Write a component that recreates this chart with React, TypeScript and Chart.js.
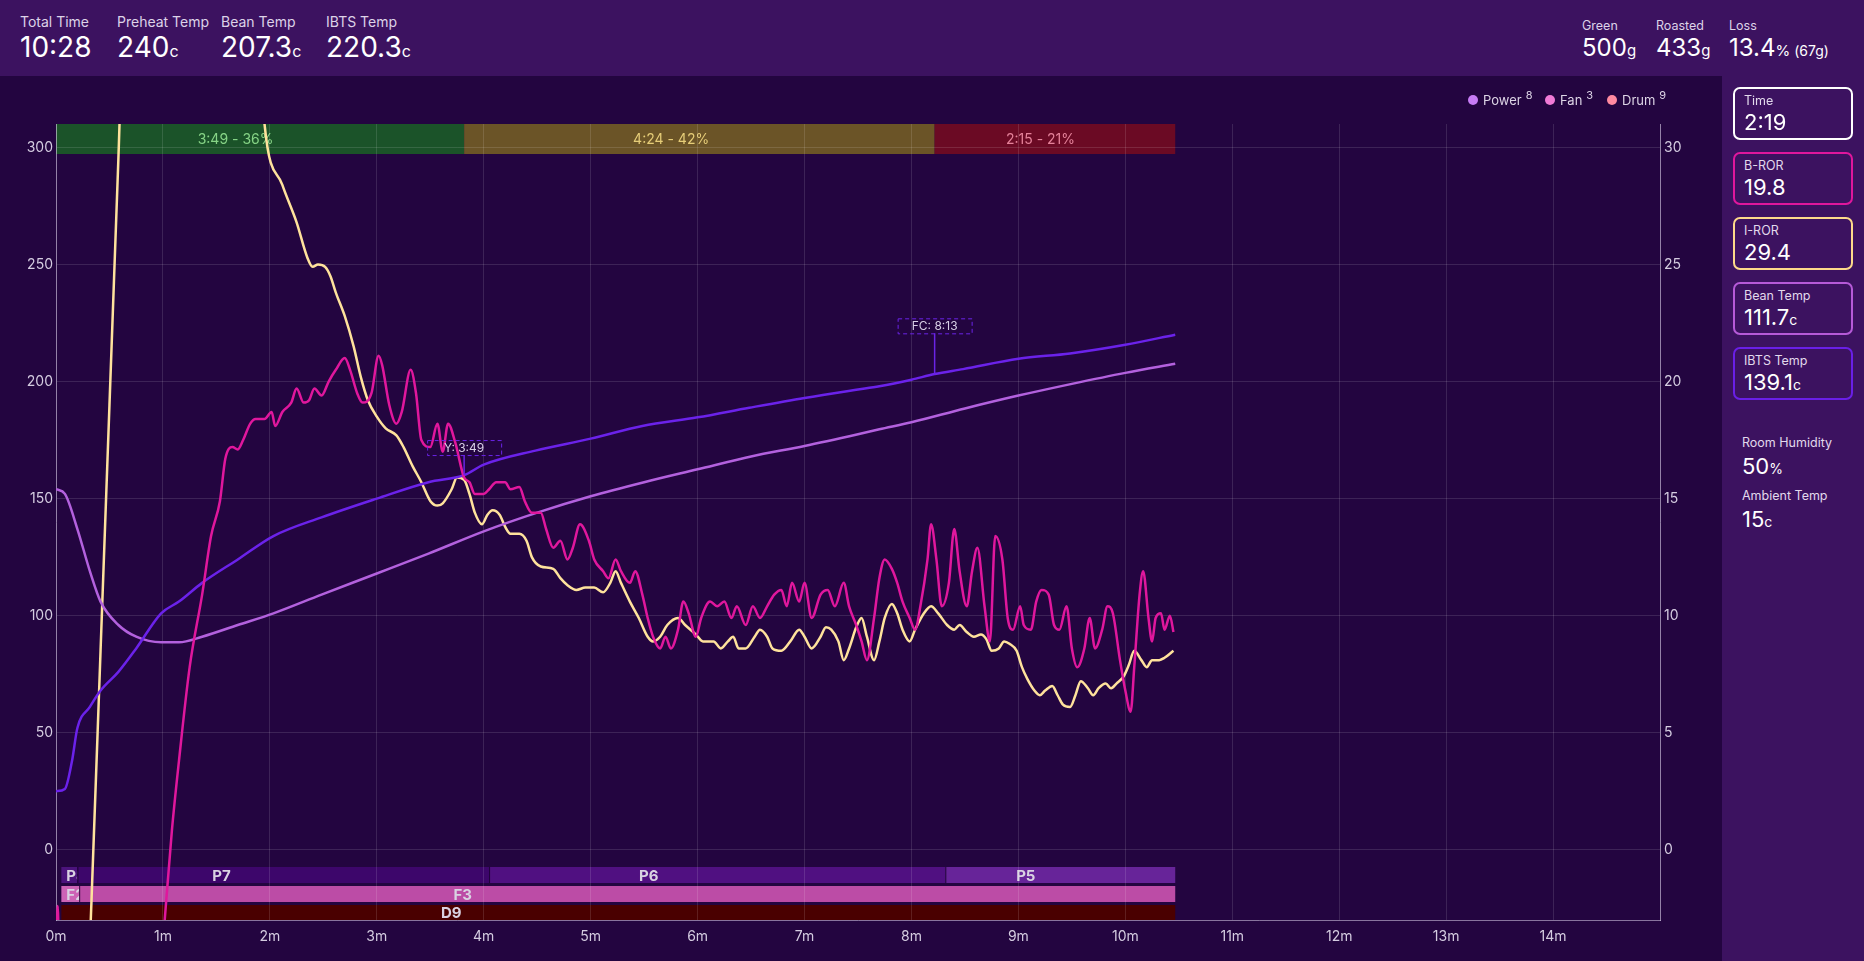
import React, { useEffect, useRef } from 'react';
import { Chart, registerables } from 'chart.js';

Chart.register(...registerables);

// ---------- data ----------
const beanTime = [0, 5, 12, 19, 25, 35, 45, 59, 69, 82, 102, 122, 149, 180, 209, 240, 270, 300, 330, 360, 390, 420, 450, 462, 480, 510, 540, 570, 600, 628];
const beanTemp = [154, 152, 137, 119, 106, 96, 91, 88.6, 88.6, 91, 96, 101, 109, 118, 126.5, 136, 144, 151, 157, 162.5, 168, 172.5, 177.5, 179.6, 182.6, 188.5, 194, 199, 203.7, 207.6];

const ibtsTime = [0, 5, 9, 12, 19, 25, 35, 45, 59, 69, 82, 102, 122, 149, 180, 209, 229, 240, 269, 300, 329, 360, 389, 420, 449, 462, 480, 493, 509, 540, 569, 600, 628];
const ibtsTemp = [25, 26, 38, 52, 61, 68, 76, 86, 101, 106, 114, 124, 134, 142, 150, 157, 160, 164.5, 170.5, 175.6, 181, 184.7, 188.8, 193, 196.5, 198, 200.8, 203.2, 205.3, 209.7, 212, 215.7, 220];

const brorTime = [0, 1, 2, 58, 61, 65, 69, 75, 82, 87, 92, 95, 99, 102, 105, 109, 112, 117, 121, 123, 127, 132, 135, 139, 142, 145, 149, 153, 157, 162, 165, 169, 172, 177, 181, 183, 187, 191, 194, 199, 202, 205, 210, 214, 217, 220, 224, 229, 232, 235, 240, 243, 247, 252, 255, 260, 263, 267, 272, 275, 279, 283, 287, 290, 294, 299, 302, 307, 310, 314, 317, 322, 325, 329, 332, 335, 339, 342, 345, 349, 352, 355, 359, 362, 367, 371, 375, 379, 382, 387, 391, 395, 399, 403, 407, 410, 413, 417, 420, 424, 429, 433, 437, 442, 445, 449, 452, 455, 459, 462, 465, 469, 472, 475, 479, 482, 485, 489, 491, 494, 497, 501, 504, 507, 511, 514, 517, 521, 524, 527, 531, 534, 537, 541, 543, 547, 550, 553, 557, 560, 563, 567, 570, 573, 577, 580, 583, 587, 590, 593, 597, 600, 603, 605, 608, 610, 613, 615, 617, 620, 622, 625, 627];
const brorVal = [-6, -2.4, -6, -6, -3, 0.8, 3.8, 7.8, 10.9, 13.4, 14.9, 16.7, 17.2, 17.1, 17.5, 18.2, 18.4, 18.4, 18.7, 18.1, 18.7, 19.1, 19.7, 19.1, 19.2, 19.7, 19.4, 20, 20.5, 21, 20.5, 19.5, 19.1, 19.5, 21.1, 20.7, 19, 18.2, 18.7, 20.5, 19.5, 17.5, 17.2, 18.2, 17, 18.2, 17.4, 15.9, 15.7, 15.2, 15.2, 15.4, 15.7, 15.7, 15.4, 15.5, 14.9, 14.4, 14.4, 13.7, 12.9, 13.2, 12.4, 12.9, 13.9, 13.2, 12.4, 11.9, 11.6, 12.4, 11.9, 11.4, 11.9, 10.9, 9.9, 9.1, 8.6, 9.1, 8.6, 9.4, 10.6, 10.1, 9.1, 9.9, 10.6, 10.4, 10.6, 9.9, 10.4, 9.6, 10.4, 9.9, 10.4, 10.9, 11.1, 10.4, 11.4, 10.6, 11.4, 9.9, 10.9, 11.1, 10.4, 11.4, 10.4, 9.6, 8.9, 8.1, 9.9, 11.6, 12.4, 12, 11.4, 10.6, 9.9, 9.4, 10.4, 12.4, 13.9, 12.4, 10.4, 11.4, 13.7, 11.9, 10.4, 11.9, 12.9, 10.4, 8.9, 13.4, 12.4, 9.9, 9.4, 10.4, 9.6, 9.4, 10.6, 11.1, 10.9, 9.6, 9.4, 10.4, 8.6, 7.8, 8.6, 9.9, 8.6, 9.4, 10.4, 10.1, 8.1, 6.8, 5.9, 7.8, 10.9, 11.9, 9.9, 8.9, 9.9, 10.1, 9.4, 10, 9.3];

const irorTime = [15, 20, 25, 30, 35, 40, 110, 117, 127, 135, 141, 144, 147, 151, 154, 157, 162, 167, 171, 175, 180, 185, 191, 195, 200, 205, 210, 214, 217, 222, 225, 229, 232, 235, 239, 242, 245, 249, 252, 255, 260, 264, 267, 272, 279, 283, 287, 292, 297, 302, 307, 311, 314, 317, 322, 327, 332, 335, 339, 343, 349, 353, 359, 363, 369, 373, 377, 380, 383, 387, 392, 395, 399, 402, 407, 412, 417, 420, 424, 429, 432, 435, 439, 442, 445, 449, 452, 455, 459, 462, 465, 469, 472, 475, 479, 482, 487, 491, 495, 500, 504, 507, 511, 515, 519, 522, 525, 529, 532, 535, 539, 542, 545, 549, 552, 555, 559, 562, 565, 569, 572, 575, 579, 582, 585, 589, 592, 595, 599, 602, 605, 609, 612, 615, 619, 622, 627];
const irorVal = [-12, -2, 8.5, 19, 29.5, 40, 40, 31, 28.4, 26.8, 25.3, 24.9, 25, 24.9, 24.5, 23.8, 22.8, 21.5, 20.2, 19.2, 18.5, 18, 17.7, 17.2, 16.4, 15.7, 14.9, 14.7, 14.8, 15.4, 15.9, 15.8, 15.2, 14.4, 13.9, 14.3, 14.5, 14.3, 13.8, 13.5, 13.5, 13.2, 12.5, 12.1, 12, 11.6, 11.3, 11.1, 11.2, 11.2, 11, 11.4, 11.9, 11.4, 10.6, 9.9, 9.1, 8.9, 9.1, 9.6, 9.9, 9.6, 9.2, 8.9, 8.9, 8.6, 8.9, 9.1, 8.6, 8.6, 9.1, 9.4, 9.1, 8.6, 8.5, 8.9, 9.4, 9.1, 8.6, 9.1, 9.5, 9.4, 8.9, 8.1, 8.6, 9.5, 9.9, 9.1, 8.1, 8.9, 9.9, 10.5, 10.1, 9.4, 8.9, 9.4, 10.1, 10.4, 10.1, 9.6, 9.4, 9.6, 9.3, 9.1, 9.2, 9, 8.5, 8.6, 8.9, 8.8, 8.5, 7.8, 7.3, 6.8, 6.6, 6.8, 7, 6.6, 6.2, 6.1, 6.6, 7.2, 6.9, 6.6, 6.9, 7.1, 6.9, 7.1, 7.4, 7.9, 8.5, 8.1, 7.8, 8.1, 8.1, 8.2, 8.5];

// roast phases (drying, maillard, development)
const phaseStarts = [0, 229, 493];
const roastEnd = 628;
const phaseColors = ['#1b5329', '#6b5427', '#6b0a24'];
const phaseTextColors = ['#86d486', '#e6cd78', '#e5829a'];

// control rows
const powerStarts = [3, 12, 243, 499];
const powerLabels = ['P8', 'P7', 'P6', 'P5'];
const powerColors = ['#4b137c', '#3d066b', '#501081', '#672499'];
const fanStarts = [3, 13];
const fanLabels = ['F2', 'F3'];
const fanColors = ['#cd63b6', '#bc4ca6'];
const drumStarts = [3];
const drumLabels = ['D9'];
const drumColors = ['#4a0000'];

// event markers
const markerTimes = [229, 493];
const markerLabels = ['Y: 3:49', 'FC: 8:13'];
const markerBoxTop = [175, 227];

// x ticks (minutes)
const xTickStep = 60;
const xMax = 900;

const fmt = (s: number) => `${Math.floor(s / 60)}:${String(Math.round(s % 60)).padStart(2, '0')}`;

const pts = (t: number[], v: number[]) => t.map((x, i) => ({ x, y: v[i] }));

const bandsPlugin = {
  id: 'bands',
  beforeDraw(chart: any) {
    const { ctx, chartArea: a, scales } = chart;
    const x = scales.x;
    ctx.save();
    // top phase bar
    const topH = 30;
    const ends = [...phaseStarts.slice(1), roastEnd];
    phaseStarts.forEach((s, i) => {
      const x0 = x.getPixelForValue(s);
      const x1 = x.getPixelForValue(ends[i]);
      ctx.fillStyle = phaseColors[i];
      ctx.fillRect(x0, a.top, x1 - x0, topH);
      const dur = ends[i] - s;
      const pct = Math.round((dur / roastEnd) * 100);
      ctx.fillStyle = phaseTextColors[i];
      ctx.font = '14px Inter';
      ctx.textAlign = 'center';
      ctx.textBaseline = 'middle';
      ctx.fillText(`${fmt(dur)} - ${pct}%`, x0 + (x1 - x0) * 0.44, a.top + topH / 2 + 1);
    });
    // bottom rows
    const rows = [
      { starts: powerStarts, labels: powerLabels, colors: powerColors, top: 53, h: 16 },
      { starts: fanStarts, labels: fanLabels, colors: fanColors, top: 34, h: 16 },
      { starts: drumStarts, labels: drumLabels, colors: drumColors, top: 15, h: 15 },
    ];
    rows.forEach((r) => {
      const y0 = a.bottom - r.top;
      r.starts.forEach((s, i) => {
        const e = i + 1 < r.starts.length ? r.starts[i + 1] : roastEnd;
        const x0 = x.getPixelForValue(s);
        const x1 = x.getPixelForValue(e);
        ctx.fillStyle = r.colors[i];
        ctx.fillRect(x0, y0, x1 - x0, r.h);
        if (i > 0) {
          ctx.fillStyle = 'rgba(20,0,40,0.8)';
          ctx.fillRect(x0, y0, 1, r.h);
        }
        ctx.save();
        ctx.beginPath();
        ctx.rect(x0, y0, x1 - x0, r.h);
        ctx.clip();
        ctx.font = 'bold 15px Inter';
        ctx.fillStyle = '#d9d2e2';
        ctx.textBaseline = 'middle';
        ctx.textAlign = 'left';
        const tw = ctx.measureText(r.labels[i]).width;
        let lx = x0 + (x1 - x0) * 0.35 - tw / 2;
        if (lx < x0 + 5) lx = x0 + 5;
        ctx.fillText(r.labels[i], lx, y0 + r.h / 2 + 1);
        ctx.restore();
      });
    });
    ctx.restore();
  },
  afterDatasetsDraw(chart: any) {
    const { ctx, scales } = chart;
    const x = scales.x;
    const y = scales.y;
    ctx.save();
    markerTimes.forEach((t, i) => {
      const cx = x.getPixelForValue(t);
      const top = y.getPixelForValue(markerBoxTop[i]);
      const w = 74;
      const h = 15;
      // value of IBTS at marker time
      let iv = ibtsTemp[0];
      for (let k = 0; k < ibtsTime.length - 1; k++) {
        if (t >= ibtsTime[k] && t <= ibtsTime[k + 1]) {
          const f = (t - ibtsTime[k]) / (ibtsTime[k + 1] - ibtsTime[k]);
          iv = ibtsTemp[k] + f * (ibtsTemp[k + 1] - ibtsTemp[k]);
        }
      }
      const ly = y.getPixelForValue(iv);
      ctx.strokeStyle = '#6a24e6';
      ctx.lineWidth = 1.5;
      ctx.setLineDash([]);
      ctx.beginPath();
      ctx.moveTo(cx, top + h);
      ctx.lineTo(cx, ly);
      ctx.stroke();
      ctx.lineWidth = 1;
      ctx.setLineDash([4, 3]);
      ctx.strokeRect(cx - w / 2 + 0.5, top + 0.5, w, h);
      ctx.setLineDash([]);
      ctx.fillStyle = '#d8d0e6';
      ctx.font = '12px Inter';
      ctx.textAlign = 'center';
      ctx.textBaseline = 'middle';
      ctx.fillText(markerLabels[i], cx, top + h / 2 + 1);
    });
    ctx.restore();
  },
};

const tickColor = '#d4cce0';
const gridColor = 'rgba(255,255,255,0.12)';
const borderColor = 'rgba(220,210,235,0.55)';

function RoastChart() {
  const ref = useRef<HTMLCanvasElement>(null);
  useEffect(() => {
    if (!ref.current) return;
    const chart = new Chart(ref.current, {
      type: 'line',
      data: {
        datasets: [
          { label: 'B-ROR', data: pts(brorTime, brorVal), borderColor: '#e0179d', yAxisID: 'y1', cubicInterpolationMode: 'monotone' },
          { label: 'IBTS Temp', data: pts(ibtsTime, ibtsTemp), borderColor: '#6b22ea', yAxisID: 'y', cubicInterpolationMode: 'monotone' },
          { label: 'Bean Temp', data: pts(beanTime, beanTemp), borderColor: '#b361de', yAxisID: 'y', cubicInterpolationMode: 'monotone' },
          { label: 'I-ROR', data: pts(irorTime, irorVal), borderColor: '#ffe29c', yAxisID: 'y1', cubicInterpolationMode: 'monotone' },
        ],
      },
      options: {
        animation: false,
        responsive: false,
        devicePixelRatio: 1,
        layout: { padding: { top: 48, left: 0, right: 0, bottom: 0 } },
        plugins: { legend: { display: false }, tooltip: { enabled: false } },
        elements: { point: { radius: 0 }, line: { borderWidth: 2.5 } },
        datasets: { line: { clip: 0 } } as any,
        scales: {
          x: {
            type: 'linear',
            min: 0,
            max: xMax,
            ticks: {
              stepSize: xTickStep,
              autoSkip: false,
              maxRotation: 0,
              color: tickColor,
              font: { family: 'Inter', size: 14 },
              padding: 8,
              callback: (v: any) => (v < xMax ? `${v / 60}m` : ''),
            },
            grid: { color: gridColor, drawTicks: false },
            border: { color: borderColor },
            afterFit: (s: any) => { s.height = 41; },
          },
          y: {
            position: 'left',
            min: -30,
            max: 310,
            ticks: { stepSize: 50, includeBounds: false, color: tickColor, font: { family: 'Inter', size: 14 }, padding: 3 },
            grid: { color: gridColor, drawTicks: false },
            border: { color: borderColor },
            afterFit: (s: any) => { s.width = 56; },
          },
          y1: {
            position: 'right',
            min: -3,
            max: 31,
            ticks: { stepSize: 5, includeBounds: false, color: tickColor, font: { family: 'Inter', size: 14 }, padding: 4 },
            grid: { display: false, drawTicks: false },
            border: { color: borderColor },
            afterFit: (s: any) => { s.width = 62; },
          },
        },
      } as any,
      plugins: [bandsPlugin],
    });
    return () => chart.destroy();
  }, []);
  return <canvas ref={ref} width={1722} height={885} style={{ position: 'absolute', left: 0, top: 76, display: 'block' }} />;
}

const font = 'Inter, "Noto Sans", sans-serif';

function HeaderItem({ left, label, value, unit, extra, big }: any) {
  const lsize = big ? 14 : 12.5;
  const vsize = big ? 28 : 24;
  const ltop = big ? 15 : 20;
  const vtop = big ? 33 : 36;
  return (
    <>
      <div style={{ position: 'absolute', left, top: ltop, fontSize: lsize, lineHeight: 1, color: '#ddd3e8', whiteSpace: 'nowrap' }}>{label}</div>
      <div style={{ position: 'absolute', left, top: vtop, fontSize: vsize, lineHeight: 1, color: '#ffffff', whiteSpace: 'nowrap' }}>
        {value}
        {unit && <span style={{ fontSize: big ? 16 : 15 }}>{unit}</span>}
        {extra && <span style={{ fontSize: 14 }}>{extra}</span>}
      </div>
    </>
  );
}

function StatBox({ top, label, value, unit, color }: any) {
  return (
    <div style={{ position: 'absolute', left: 1733, top, width: 120, height: 53, boxSizing: 'border-box', border: `2px solid ${color}`, borderRadius: 7 }}>
      <div style={{ position: 'absolute', left: 9, top: 6, fontSize: 12.5, lineHeight: 1, color: '#e2d9ec' }}>{label}</div>
      <div style={{ position: 'absolute', left: 9, top: 22, fontSize: 22, lineHeight: 1, color: '#fff' }}>
        {value}
        {unit && <span style={{ fontSize: 14 }}>{unit}</span>}
      </div>
    </div>
  );
}

function LegendItem({ left, color, label, value }: any) {
  return (
    <div style={{ position: 'absolute', left, top: 91, height: 18, display: 'flex', alignItems: 'center', whiteSpace: 'nowrap', color: '#ddd5e6', fontSize: 13 }}>
      <span style={{ width: 10, height: 10, borderRadius: 5, background: color, display: 'inline-block', marginRight: 5 }} />
      <span>{label}</span>
      <span style={{ fontSize: 11, position: 'relative', top: -5, marginLeft: 4 }}>{value}</span>
    </div>
  );
}

export default function App() {
  return (
    <div style={{ position: 'fixed', left: 0, top: 0, width: 1864, height: 961, background: '#230540', fontFamily: font, overflow: 'hidden' }}>
      <div style={{ position: 'absolute', left: 0, top: 0, width: 1864, height: 76, background: '#3c1260' }}>
        <HeaderItem big left={20} label="Total Time" value="10:28" />
        <HeaderItem big left={117} label="Preheat Temp" value="240" unit="c" />
        <HeaderItem big left={221} label="Bean Temp" value="207.3" unit="c" />
        <HeaderItem big left={326} label="IBTS Temp" value="220.3" unit="c" />
        <HeaderItem left={1582} label="Green" value="500" unit="g" />
        <HeaderItem left={1656} label="Roasted" value="433" unit="g" />
        <HeaderItem left={1729} label="Loss" value="13.4" unit="%" extra=" (67g)" />
      </div>
      <div style={{ position: 'absolute', left: 1722, top: 76, width: 142, height: 885, background: '#3c1260' }}>
      </div>
      <RoastChart />
      <LegendItem left={1468} color="#c77cf5" label="Power" value="8" />
      <LegendItem left={1545} color="#f07ad6" label="Fan" value="3" />
      <LegendItem left={1607} color="#ff8aa0" label="Drum" value="9" />
      <StatBox top={87} label="Time" value="2:19" color="#ffffff" />
      <StatBox top={152} label="B-ROR" value="19.8" color="#e0179d" />
      <StatBox top={217} label="I-ROR" value="29.4" color="#fdd98a" />
      <StatBox top={282} label="Bean Temp" value="111.7" unit="c" color="#b65ad8" />
      <StatBox top={347} label="IBTS Temp" value="139.1" unit="c" color="#6a1fe6" />
      <div style={{ position: 'absolute', left: 1742, top: 437, fontSize: 12.5, lineHeight: 1, color: '#e2d9ec' }}>Room Humidity</div>
      <div style={{ position: 'absolute', left: 1742, top: 455, fontSize: 22, lineHeight: 1, color: '#fff' }}>50<span style={{ fontSize: 14 }}>%</span></div>
      <div style={{ position: 'absolute', left: 1742, top: 490, fontSize: 12.5, lineHeight: 1, color: '#e2d9ec' }}>Ambient Temp</div>
      <div style={{ position: 'absolute', left: 1742, top: 508, fontSize: 22, lineHeight: 1, color: '#fff' }}>15<span style={{ fontSize: 14 }}>c</span></div>
    </div>
  );
}
